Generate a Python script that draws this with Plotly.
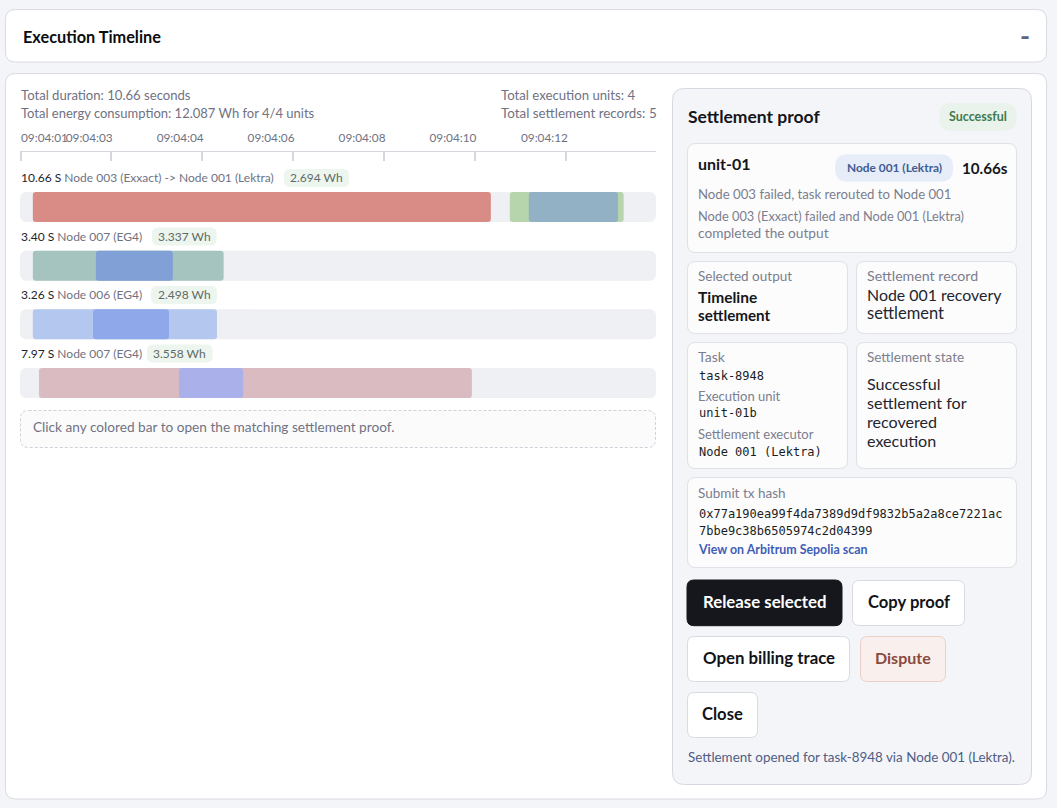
import plotly.graph_objects as go

W, H = 1057, 808
FONT = "Lato"
MONO = "DejaVu Sans Mono"

# timeline data, in seconds from the left edge of the track
units = ["unit-01", "unit-02", "unit-03", "unit-04"]
durations = ["10.66 S", "3.40 S", "3.26 S", "7.97 S"]
nodes = ["Node 003 (Exxact) -> Node 001 (Lektra)", "Node 007 (EG4)", "Node 006 (EG4)", "Node 007 (EG4)"]
energy = ["2.694 Wh", "3.337 Wh", "2.498 Wh", "3.558 Wh"]
main_start = [0.23, 0.23, 0.23, 0.34]
main_length = [8.21, 3.42, 3.30, 7.76]
main_colors = ["#d98b85", "#a5c4c0", "#b4c7ee", "#dabbc2"]
recovery_start = [8.78]
recovery_length = [2.04]
active_start = [9.12, 1.36, 1.31, 2.85]
active_length = [1.60, 1.38, 1.36, 1.15]
active_colors = ["#92b1c4", "#81a0d6", "#8ea8e9", "#aab0ea"]
track_end = 11.4

# plotly drops inside ticks within 1px of the axis end, so the first one is nudged
tick_seconds = [0.02, 1.63, 3.26, 4.89, 6.52, 8.15, 9.79]
tick_labels = ["", "09:04:03", "09:04:04", "09:04:06", "09:04:08", "09:04:10", "09:04:12"]
first_tick_label = "09:04:01"

shapes = []
annotations = []


def px(x):
    return x / W


def py(y):
    return 1 - y / H


def box(x0, y0, x1, y1, r, fill, line=None, dash=None, width=1):
    """Rounded rectangle given in page pixels."""
    pts = [
        f"M{px(x0 + r)},{py(y0)}", f"L{px(x1 - r)},{py(y0)}", f"Q{px(x1)},{py(y0)} {px(x1)},{py(y0 + r)}",
        f"L{px(x1)},{py(y1 - r)}", f"Q{px(x1)},{py(y1)} {px(x1 - r)},{py(y1)}",
        f"L{px(x0 + r)},{py(y1)}", f"Q{px(x0)},{py(y1)} {px(x0)},{py(y1 - r)}",
        f"L{px(x0)},{py(y0 + r)}", f"Q{px(x0)},{py(y0)} {px(x0 + r)},{py(y0)}", "Z",
    ]
    shapes.append(dict(
        type="path", path=" ".join(pts), xref="paper", yref="paper", layer="below", fillcolor=fill,
        line=dict(color=line if line else fill, width=width if line else 0, dash=dash or "solid"),
    ))


def label(x, y, text, size=13, color="#6f7283", bold=False, anchor="left", family=FONT):
    # Lato sits about a pixel right and low of the original text
    if anchor == "left":
        x -= 1
    annotations.append(dict(
        x=px(x), y=py(y - 0.5), xref="paper", yref="paper", text=f"<b>{text}</b>" if bold else text,
        showarrow=False, xanchor=anchor, yanchor="middle", align=anchor, borderpad=0,
        font=dict(family=family, size=size, color=color),
    ))


def button(x0, y0, x1, y1, text, size=16.6, fill="#ffffff", line="#d9dae2", color="#111318"):
    box(x0, y0, x1, y1, 7, fill, line)
    label((x0 + x1) / 2, (y0 + y1) / 2 - 1, text, size=size, color=color, bold=True, anchor="center")


GREY = "#7b7e8d"
DARK = "#23252e"
INK = "#14161b"
CODE = "#1b1d22"

# page cards
box(5.5, 9.5, 1046.5, 62, 10, "#ffffff", "#d9dae2")
box(5.5, 73.5, 1046.5, 799, 10, "#ffffff", "#d9dae2")
label(22.5, 37, "Execution Timeline", size=16.3, color="#0b0c10", bold=True)
label(1025, 35.5, "-", size=27, color="#5f6480", bold=True, anchor="center")

# summary
label(20.5, 95, "Total duration: 10.66 seconds", size=13.1)
label(20.5, 113, "Total energy consumption: 12.087 Wh for 4/4 units")
label(500.5, 95, "Total execution units: 4", size=13.2)
label(500.5, 113, "Total settlement records: 5", size=13.4)
label(20.5, 138, first_tick_label, size=11.8)

# row headers
row_label_y = [178, 236.5, 295, 353.5]
pill_x = [(284, 349), (152, 216.7), (151, 217), (147, 212.7)]
for i in range(len(units)):
    text = f'<span style="color:{DARK}">{durations[i]}</span> {nodes[i]}'
    label(20.5, row_label_y[i], text, size=12, color="#6f7283")
    box(pill_x[i][0], row_label_y[i] - 9, pill_x[i][1], row_label_y[i] + 9, 6, "#edf5ef")
    label(sum(pill_x[i]) / 2, row_label_y[i], energy[i], size=12, color="#5f6b64", anchor="center")

# hint box under the rows
box(20.5, 410.5, 655.5, 447.5, 8, "#fbfbfc", "#cfd0da", dash="3px,2px")
label(33, 427, "Click any colored bar to open the matching settlement proof.", size=13.65)

# settlement proof panel
box(672.5, 88.5, 1031.5, 784.5, 12, "#f4f5f8", "#d6d7e0")
label(687.5, 117, "Settlement proof", size=17.5, color=INK, bold=True)
box(939, 103, 1016.7, 130.7, 13, "#e9f3ec")
label(978, 117, "Successful", size=12.5, color="#417a4e", bold=True, anchor="center")

CARD = "#fcfcfd"
EDGE = "#dfe0e8"
box(687.5, 143.5, 1016.5, 252.5, 8, CARD, EDGE)
label(698, 164, "unit-01", size=16, color=INK, bold=True)
box(835, 154.3, 953, 181.7, 13, "#e6edf9")
label(894, 168, "Node 001 (Lektra)", size=11.9, color="#3f5c94", bold=True, anchor="center")
label(961.5, 168.5, "10.66s", size=15.2, color=INK, bold=True)
label(698, 194, "Node 003 failed, task rerouted to Node 001", size=13.2, color=GREY)
label(698, 217, "Node 003 (Exxact) failed and Node 001 (Lektra)", size=12.8, color=GREY)
label(698, 233, "completed the output", size=13.7, color=GREY)

box(687.5, 261.5, 847.5, 333.5, 8, CARD, EDGE)
label(698, 276, "Selected output", size=13.5, color=GREY)
label(698, 297, "Timeline", size=15.5, color=INK, bold=True)
label(698, 316, "settlement", size=15.2, color=INK, bold=True)

box(856.5, 261.5, 1016.5, 333.5, 8, CARD, EDGE)
label(867, 276, "Settlement record", size=14.2, color=GREY)
label(867, 295, "Node 001 recovery", size=15.9, color=DARK)
label(867, 314, "settlement", size=16.5, color=DARK)

box(687.5, 342.5, 847.5, 468.5, 8, CARD, EDGE)
label(698, 357, "Task", size=14, color=GREY)
label(698.5, 376, "task-8948", size=12, color=CODE, family=MONO)
label(698, 396, "Execution unit", size=13, color=GREY)
label(698.5, 414, "unit-01b", size=12, color=CODE, family=MONO)
label(698, 434, "Settlement executor", size=13, color=GREY)
label(698.5, 452, "Node 001 (Lektra)", size=12, color=CODE, family=MONO)

box(856.5, 342.5, 1016.5, 468.5, 8, CARD, EDGE)
label(867, 357, "Settlement state", size=13.5, color=GREY)
for y, line in zip([384, 403, 422, 441], ["Successful", "settlement for", "recovered", "execution"]):
    label(867, y, line, size=16.1, color=DARK)

box(687.5, 477.5, 1016.5, 567.5, 8, CARD, EDGE)
label(698, 493, "Submit tx hash", size=13.5, color=GREY)
label(698.5, 514, "0x77a190ea99f4da7389d9df9832b5a2a8ce7221ac", size=12, color=CODE, family=MONO)
label(698.5, 531, "7bbe9c38b6505974c2d04399", size=12, color=CODE, family=MONO)
label(698, 550, "View on Arbitrum Sepolia scan", size=12.4, color="#3e5eb5", bold=True)

button(687, 580, 842, 625.7, "Release selected", size=16.8, fill="#15171c", line="#15171c", color="#ffffff")
button(852.5, 580.5, 964.5, 625.5, "Copy proof")
button(687.5, 636.5, 849.5, 681.5, "Open billing trace", size=16.8)
button(860.5, 636.5, 945.5, 681.5, "Dispute", size=16, fill="#f9efed", line="#eccfc6", color="#8a4a3c")
button(687.5, 692.5, 757.5, 737.5, "Close")
label(687.5, 757, "Settlement opened for task-8948 via Node 001 (Lektra).", size=13.4, color="#4f5d85")

# timeline bars
fig = go.Figure()
bar_width = 0.511
fig.add_trace(go.Bar(
    y=units, x=[track_end] * len(units), base=[0] * len(units), orientation="h", width=bar_width,
    marker=dict(color="#eff0f4", cornerradius=6, line_width=0), hoverinfo="skip",
))
fig.add_trace(go.Bar(
    y=units, x=main_length, base=main_start, orientation="h", width=bar_width,
    marker=dict(color=main_colors, cornerradius=3, line_width=0),
))
fig.add_trace(go.Bar(
    y=units[:1], x=recovery_length, base=recovery_start, orientation="h", width=bar_width,
    marker=dict(color="#b7d5ac", cornerradius=3, line_width=0),
))
fig.add_trace(go.Bar(
    y=units, x=active_length, base=active_start, orientation="h", width=bar_width,
    marker=dict(color=active_colors, cornerradius=3, line_width=0),
))

fig.update_layout(
    width=W, height=H, margin=dict(l=0, r=0, t=0, b=0), barmode="overlay", showlegend=False,
    paper_bgcolor="#f4f5f8", plot_bgcolor="rgba(0,0,0,0)", shapes=shapes, annotations=annotations,
    font=dict(family=FONT),
    xaxis=dict(
        domain=[px(20), px(656)], range=[0, track_end], anchor="free", position=py(151), side="top",
        tickmode="array", tickvals=tick_seconds, ticktext=tick_labels, ticks="inside", ticklen=9,
        tickwidth=1.5, tickcolor="#d5d6de", showline=True, linecolor="#d5d6de", linewidth=1,
        showgrid=False, zeroline=False, ticklabelposition="outside left", fixedrange=True,
        ticklabelshift=3, ticklabelstandoff=4,
        tickfont=dict(family=FONT, size=11.8, color="#6f7283"),
    ),
    yaxis=dict(
        domain=[py(412.33), py(177.67)], type="category", categoryorder="array", categoryarray=units,
        range=[3.5, -0.5], visible=False, fixedrange=True,
    ),
)

fig.write_html(
    "out.html", config=dict(displayModeBar=False),
    post_script="document.body.style.margin='0';document.body.style.overflow='hidden';",
)
